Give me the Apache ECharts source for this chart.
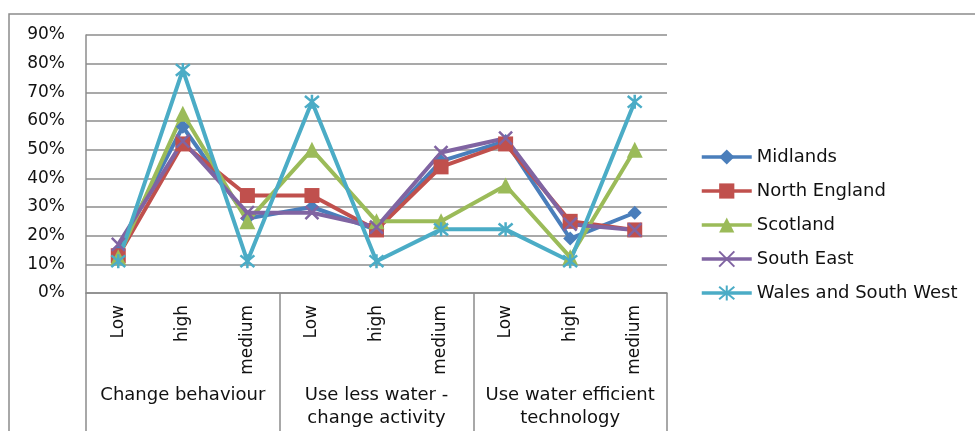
<!DOCTYPE html>
<html lang="en">
<head>
    <meta charset="UTF-8">
    <script src="https://cdn.jsdelivr.net/npm/echarts@6.0.0/dist/echarts.min.js"></script>
    <style>
        body { margin: 0; background: #fff; }
    </style>
</head>
<body>
<div id="chart" style="width: 975px;height:431px;"></div>
<script type="text/javascript">

    var levels = ["Low", "high", "medium", "Low", "high", "medium", "Low", "high", "medium"];
    var groups = ["Change behaviour", "Use less water -\nchange activity", "Use water efficient\ntechnology"];
    var yTicks = [0, 0.1, 0.2, 0.3, 0.4, 0.5, 0.6, 0.7, 0.8, 0.9];

    var midlands = [0.15, 0.58, 0.26, 0.30, 0.22, 0.46, 0.53, 0.19, 0.28];
    var northEngland = [0.13, 0.52, 0.34, 0.34, 0.22, 0.44, 0.52, 0.25, 0.22];
    var scotland = [0.125, 0.625, 0.25, 0.50, 0.25, 0.25, 0.375, 0.125, 0.50];
    var southEast = [0.17, 0.53, 0.28, 0.28, 0.23, 0.49, 0.54, 0.24, 0.22];
    var walesSW = [0.111, 0.778, 0.111, 0.667, 0.111, 0.222, 0.222, 0.111, 0.667];

    var font = "DejaVu Sans";
    var crossPath = "path://M0,0L10,10M10,0L0,10";
    var starPath = "path://M0,0L10,10M10,0L0,10M5,-1L5,11";

    function makeSeries(name, data, color, symbol, size, stroke) {
        var s = {
            name: name,
            type: "line",
            data: data,
            symbol: symbol,
            symbolSize: size,
            lineStyle: { width: 4, color: color },
            itemStyle: { color: color },
            emphasis: { disabled: true }
        };
        if (stroke) {
            s.itemStyle = { color: color, borderColor: color, borderWidth: 2.5 };
        }
        return s;
    }

    var chart = echarts.init(document.getElementById("chart"));
    var option = {
        animation: false,
        textStyle: { fontFamily: font },
        graphic: [{
            type: "rect",
            shape: { x: 9, y: 14, width: 1000, height: 500 },
            style: { fill: null, stroke: "#8c8c8c", lineWidth: 1.5 },
            silent: true
        }],
        legend: {
            orient: "vertical",
            left: 700,
            top: 148,
            padding: 0,
            itemGap: 16,
            itemWidth: 50,
            itemHeight: 19,
            lineStyle: { width: 3.5 },
            textStyle: { fontFamily: font, fontSize: 18, color: "#111" },
            data: ["Midlands", "North England", "Scotland", "South East", "Wales and South West"]
        },
        grid: { left: 86, right: 308, top: 35, bottom: 138, containLabel: false },
        xAxis: [{
            type: "category",
            data: levels,
            position: "bottom",
            boundaryGap: true,
            axisLine: { show: true, lineStyle: { color: "#8c8c8c", width: 1.5 } },
            axisTick: { show: false },
            axisLabel: { rotate: 90, margin: 12, fontSize: 17, color: "#111", fontFamily: font, interval: 0 }
        }, {
            type: "category",
            data: groups,
            position: "bottom",
            boundaryGap: true,
            axisLine: { show: false },
            axisTick: { show: true, length: 140, interval: 0, lineStyle: { color: "#8c8c8c", width: 1.5 } },
            axisLabel: { margin: 91, fontSize: 18, lineHeight: 23, color: "#111", fontFamily: font, interval: 0 }
        }],
        yAxis: {
            type: "value",
            min: 0,
            max: 0.9,
            interval: 0.1,
            axisLine: { show: true, lineStyle: { color: "#8c8c8c", width: 1.5 } },
            axisTick: { show: false },
            splitLine: { show: true, lineStyle: { color: "#8c8c8c", width: 1.5 } },
            axisLabel: {
                margin: 21,
                fontSize: 17,
                color: "#111",
                fontFamily: font,
                formatter: function (v) { return Math.round(v * 100) + "%"; }
            }
        },
        series: [
            makeSeries("Midlands", midlands, "#4A7EBB", "diamond", 14, false),
            makeSeries("North England", northEngland, "#C0504D", "rect", 15, false),
            makeSeries("Scotland", scotland, "#9BBB59", "triangle", 16, false),
            makeSeries("South East", southEast, "#8064A2", crossPath, 13, true),
            makeSeries("Wales and South West", walesSW, "#4BACC6", starPath, 14, true)
        ]
    };
    chart.setOption(option);
</script>
</body>
</html>
